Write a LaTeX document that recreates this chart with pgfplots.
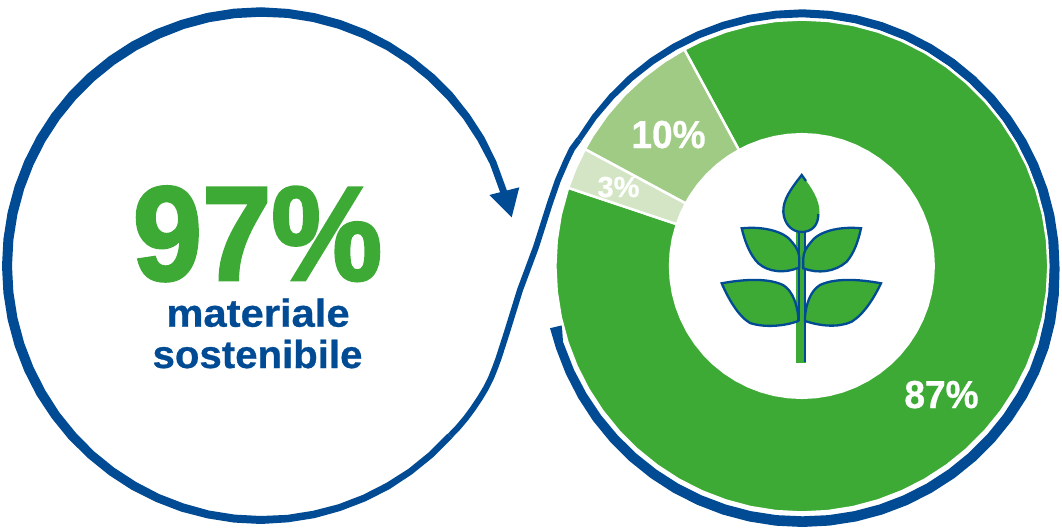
\documentclass[border=0pt]{standalone}
\usepackage{pgfplots}
\pgfplotsset{compat=1.18}
\usepackage{fontspec}
\setmainfont{Liberation Sans}
\newfontfamily\heavy[FakeBold=2.2]{Liberation Sans Bold}
\newfontfamily\semi[FakeBold=0.7]{Liberation Sans Bold}
\definecolor{ringblue}{HTML}{004B93}
\definecolor{leaf}{HTML}{3DAA35}
\definecolor{midleaf}{HTML}{9FCB84}
\definecolor{paleleaf}{HTML}{D3E5C4}
\pgfplotsset{canvas/.style={width=1062pt,height=528pt,scale only axis,axis lines=none,
  clip=false,anchor=south west,at={(0,0)},ticks=none}}
\tikzset{petal/.style={fill=leaf,draw=ringblue,line width=2.3pt}}
\begin{document}
\begin{tikzpicture}
\useasboundingbox (0,0) rectangle (1062pt,528pt);
% left circle, origin at its centre (261,266)
\begin{axis}[canvas,xmin=-261,xmax=801,ymin=-262,ymax=266]
\addplot[no marks,fill=ringblue,draw=none,data cs=polar] coordinates {
(16,257.5)(24,257.5)(30,257.9)(36,257.9)(42,258.25)(48,258.25)(54,258.25)(60,258.25)(66,258.5)(72,258.5)(78,258.5)(84,258.5)
(90,258.75)(96,258.75)(102,258.75)(108,258.75)(114,259)(120,259)(126,259)(132,259)(138,259)(144,259)(150,259)(156,259)
(162,259)(168,259)(174,259)(180,259)(186,259)(192,259)(198,259)(204,259)(210,259)(216,258.75)(222,258.75)(228,258.5)
(234,258.5)(240,258.5)(246,258.25)(252,258.25)(258,258)(264,258)(270,258)(276,257.75)(282,257.75)(288,257.5)(294,257.5)
(300,257.5)(306,257.25)(312,257.25)(318,257.25)
(318,250.75)(312,250.75)(306,250.75)(300,250.5)(294,250.5)(288,250.5)(282,250.25)(276,250.25)(270,250)(264,250)(258,250)
(252,249.75)(246,249.75)(240,249.5)(234,249.5)(228,249.5)(222,249.25)(216,249.25)(210,249)(204,249)(198,249)(192,249)
(186,249)(180,249)(174,249)(168,249)(162,249)(156,249)(150,249)(144,249)(138,249)(132,249)(126,249)(120,249)(114,249)
(108,249.25)(102,249.25)(96,249.25)(90,249.25)(84,249.5)(78,249.5)(72,249.5)(66,249.5)(60,249.75)(54,249.75)(48,249.75)
(42,249.75)(36,250.1)(30,250.1)(24,250.5)(16,250.5)
} -- cycle;
\end{axis}
% right ring, origin at its centre (802.5,268.5)
\begin{axis}[canvas,xmin=-802.5,xmax=259.5,ymin=-259.5,ymax=268.5]
\addplot[no marks,fill=ringblue,draw=none,data cs=polar] coordinates {
(150,260.75)(144,260.4)(138,260.1)(132,259.9)(126,259.7)(120,259.5)(114,259.4)(108,259.3)(102,259.3)(96,259.2)(90,259.2)
(84,259.1)(78,259)(72,258.9)(66,258.8)(60,258.7)(54,258.6)(48,258.4)(42,258.3)(36,258.1)(30,258)(24,257.8)(18,257.6)
(12,257.4)(6,257.2)(0,257)(-6,257.6)(-12,258.2)(-18,258.7)(-24,258.8)(-30,258.8)(-36,258.8)(-42,258.8)(-48,258.8)
(-54,258.8)(-60,258.7)(-66,258.7)(-72,258.6)(-78,258.6)(-84,258.5)(-90,258.5)(-96,258.6)(-102,258.6)(-108,258.7)(-114,258.7)(-120,258.8)
(-126,258.8)(-132,258.9)(-138,258.9)(-144,259)(-150,259)(-156,259.1)(-162,259.2)(-166.7,259.5)
(-166.7,247.3)(-163,250.5)(-156,250)(-150,249.6)(-144,249.3)(-138,249)(-132,248.8)(-126,248.6)(-120,248.5)(-114,248.3)(-108,248.2)(-102,248.1)
(-96,248)(-90,247.8)(-84,248)(-78,248.1)(-72,248.2)(-66,248.3)(-60,248.3)(-54,248.3)(-48,248.3)(-42,248.3)(-36,248.3)
(-30,248.3)(-24,248.5)(-18,248)(-12,247.2)(-6,246.5)(0,245.8)(6,246.4)(12,246.9)(18,247.5)(24,248)(30,248.5)(36,248.8)
(42,249.1)(48,249.4)(54,249.7)(60,250)(66,250.3)(72,250.5)(78,250.8)(84,251)(90,251.2)(96,251.4)(102,251.6)
(108,251.9)(114,252.2)(120,252.5)(126,252.8)(132,253.2)(138,253.8)(144,254.5)(150,255.25)
} -- cycle;
\end{axis}
% donut, origin at its centre (801.8,266)
\begin{axis}[canvas,xmin=-801.8,xmax=260.2,ymin=-262,ymax=266]
% 87 %
\addplot[no marks,fill=leaf,draw=white,line width=2.5pt,data cs=polar] coordinates {
(118.5,246.5)(114,246.5)(108,246.5)(102,246.5)(96,246.5)(90,246.5)(84,246.5)(78,246.5)(72,246.5)(66,246.5)(60,246.5)(54,246.5)
(48,246.5)(42,246.5)(36,246.5)(30,246.5)(24,246.5)(18,246.5)(12,246.5)(6,246.5)(0,246.5)(-6,246.5)(-12,246.5)(-18,246.5)
(-24,246.5)(-30,246.5)(-36,246.5)(-42,246.5)(-48,246.5)(-54,246.5)(-60,246.5)(-66,246.5)(-72,246.5)(-78,246.5)(-84,246.5)
(-90,246.5)(-96,246.5)(-102,246.5)(-108,246.5)(-114,246.5)(-120,246.5)(-126,246.5)(-132,246.5)(-138,246.5)(-144,246.5)
(-150,246.5)(-156,246.5)(-162,246.5)(-168,246.5)(-174,246.5)(-180,246.5)(-186,246.5)(-192,246.5)(-198.5,246.5)
(-198.5,131.8)(-192,131.8)(-186,131.8)(-180,131.8)(-174,131.8)(-168,131.8)(-162,131.8)(-156,131.8)(-150,131.8)(-144,131.8)(-138,131.8)(-132,131.8)
(-126,131.8)(-120,131.8)(-114,131.8)(-108,131.8)(-102,131.8)(-96,131.8)(-90,131.8)(-84,131.8)(-78,131.8)(-72,131.8)(-66,131.8)(-60,131.8)(-54,131.8)
(-48,131.8)(-42,131.8)(-36,131.8)(-30,131.8)(-24,131.8)(-18,131.8)(-12,131.8)(-6,131.8)(0,131.8)(6,131.8)(12,131.8)(18,131.8)(24,131.8)(30,131.8)(36,131.8)
(42,131.8)(48,131.8)(54,131.8)(60,131.8)(66,131.8)(72,131.8)(78,131.8)(84,131.8)(90,131.8)(96,131.8)(102,131.8)(108,131.8)(114,131.8)(118.5,131.8)
} -- cycle;
% 10 %
\addplot[no marks,fill=midleaf,draw=white,line width=2.5pt,data cs=polar] coordinates {
(118.5,246.5)(124,246.5)(130,246.5)(136,246.5)(142,246.5)(148,246.5)(151.7,246.5)
(151.7,131.8)(148,131.8)(142,131.8)(136,131.8)(130,131.8)(124,131.8)(118.5,131.8)
} -- cycle;
% 3 %
\addplot[no marks,fill=paleleaf,draw=white,line width=2.5pt,data cs=polar] coordinates {
(151.7,246.5)(156.5,246.5)(161.5,246.5)(161.5,131.8)(156.5,131.8)(151.7,131.8)
} -- cycle;
\end{axis}
% everything else in reference pixels
\begin{axis}[canvas,xmin=0,xmax=1062,ymin=0,ymax=528,y dir=reverse]
\addplot[no marks,ringblue,line width=6pt,line join=round] coordinates {
(449.8,436)(458,427.5)(466,418)(473,408.5)(480,398)(486,388)(491,378)(495,368)(498.5,358.5)(506.7,333)(520,290)(536,247)(550,203)(558,180)(566.7,160)(572,149)(579,139.5)
};
\fill[ringblue] (489.3,195) -- (519.3,187.3) -- (511.7,217.3) -- cycle;
% plant
\fill[leaf] (795.7,230) rectangle (806,363.3);
\fill[leaf] (801.7,175) .. controls (790,190) and (783,200) .. (783.3,212)
  .. controls (784,224) and (792,232) .. (801.7,232)
  .. controls (811,232) and (819.5,224) .. (819.5,212) .. controls (819.5,200) and (812,188) .. cycle;
\path[petal] (741.7,228.3) .. controls (765,226) and (785,232) .. (792,242) .. controls (797,248) and (799,252) .. (799.3,258.3) -- (799.3,267.3) .. controls (785,274) and (768,272) .. (758.3,263.3) .. controls (750,255) and (745,242) .. cycle;
\path[petal] (861,228.3) .. controls (838,226) and (818,232) .. (811,242) .. controls (806,248) and (803.5,252) .. (803.3,258.3) -- (803.3,268.3) .. controls (818,274) and (835,272) .. (846.7,261.7) .. controls (854,253) and (858,242) .. cycle;
\path[petal] (721.7,283.3) .. controls (745,279) and (768,278) .. (783,285) .. controls (793,291) and (797,305) .. (798.3,316.7) -- (798.3,321) .. controls (785,326) and (765,328) .. (750,323) .. controls (738,316) and (728,298) .. cycle;
\path[petal] (881,283.3) .. controls (858,279) and (835,278) .. (820,285) .. controls (810,291) and (806,305) .. (805,316.7) -- (805,321) .. controls (820,326) and (838,328) .. (851.7,321.7) .. controls (864,314) and (874,298) .. cycle;
\draw[ringblue,line width=2.3pt] (799,232) -- (799,321);
\draw[ringblue,line width=2.3pt] (805.3,232) -- (805.3,250) (805.3,268) -- (805.3,361.7);
\draw[ringblue,line width=2.3pt] (806,181) -- (801.7,175) .. controls (790,190) and (783,200) .. (783.3,212)
  .. controls (784,224) and (792,232) .. (801.7,232) .. controls (811,232) and (818.5,226) .. (818.3,214);
% text
\node[anchor=base,text=leaf,inner sep=0pt,xscale=0.93] at (257.5,280) {\fontsize{134}{134}\heavy 97\%};
\node[anchor=base,text=ringblue,inner sep=0pt,xscale=1.07] at (258,326.7) {\fontsize{39}{40}\semi materiale};
\node[anchor=base,text=ringblue,inner sep=0pt,xscale=1.03] at (257.5,368) {\fontsize{39}{40}\semi sostenibile};
\node[anchor=base,text=white,inner sep=0pt,xscale=0.95] at (668.5,148) {\fontsize{39}{40}\semi 10\%};
\node[anchor=base,text=white,inner sep=0pt] at (618.5,197) {\fontsize{29}{30}\semi 3\%};
\node[anchor=base,text=white,inner sep=0pt,xscale=0.95] at (941.5,408) {\fontsize{39}{40}\semi 87\%};
\end{axis}
\end{tikzpicture}
\end{document}
